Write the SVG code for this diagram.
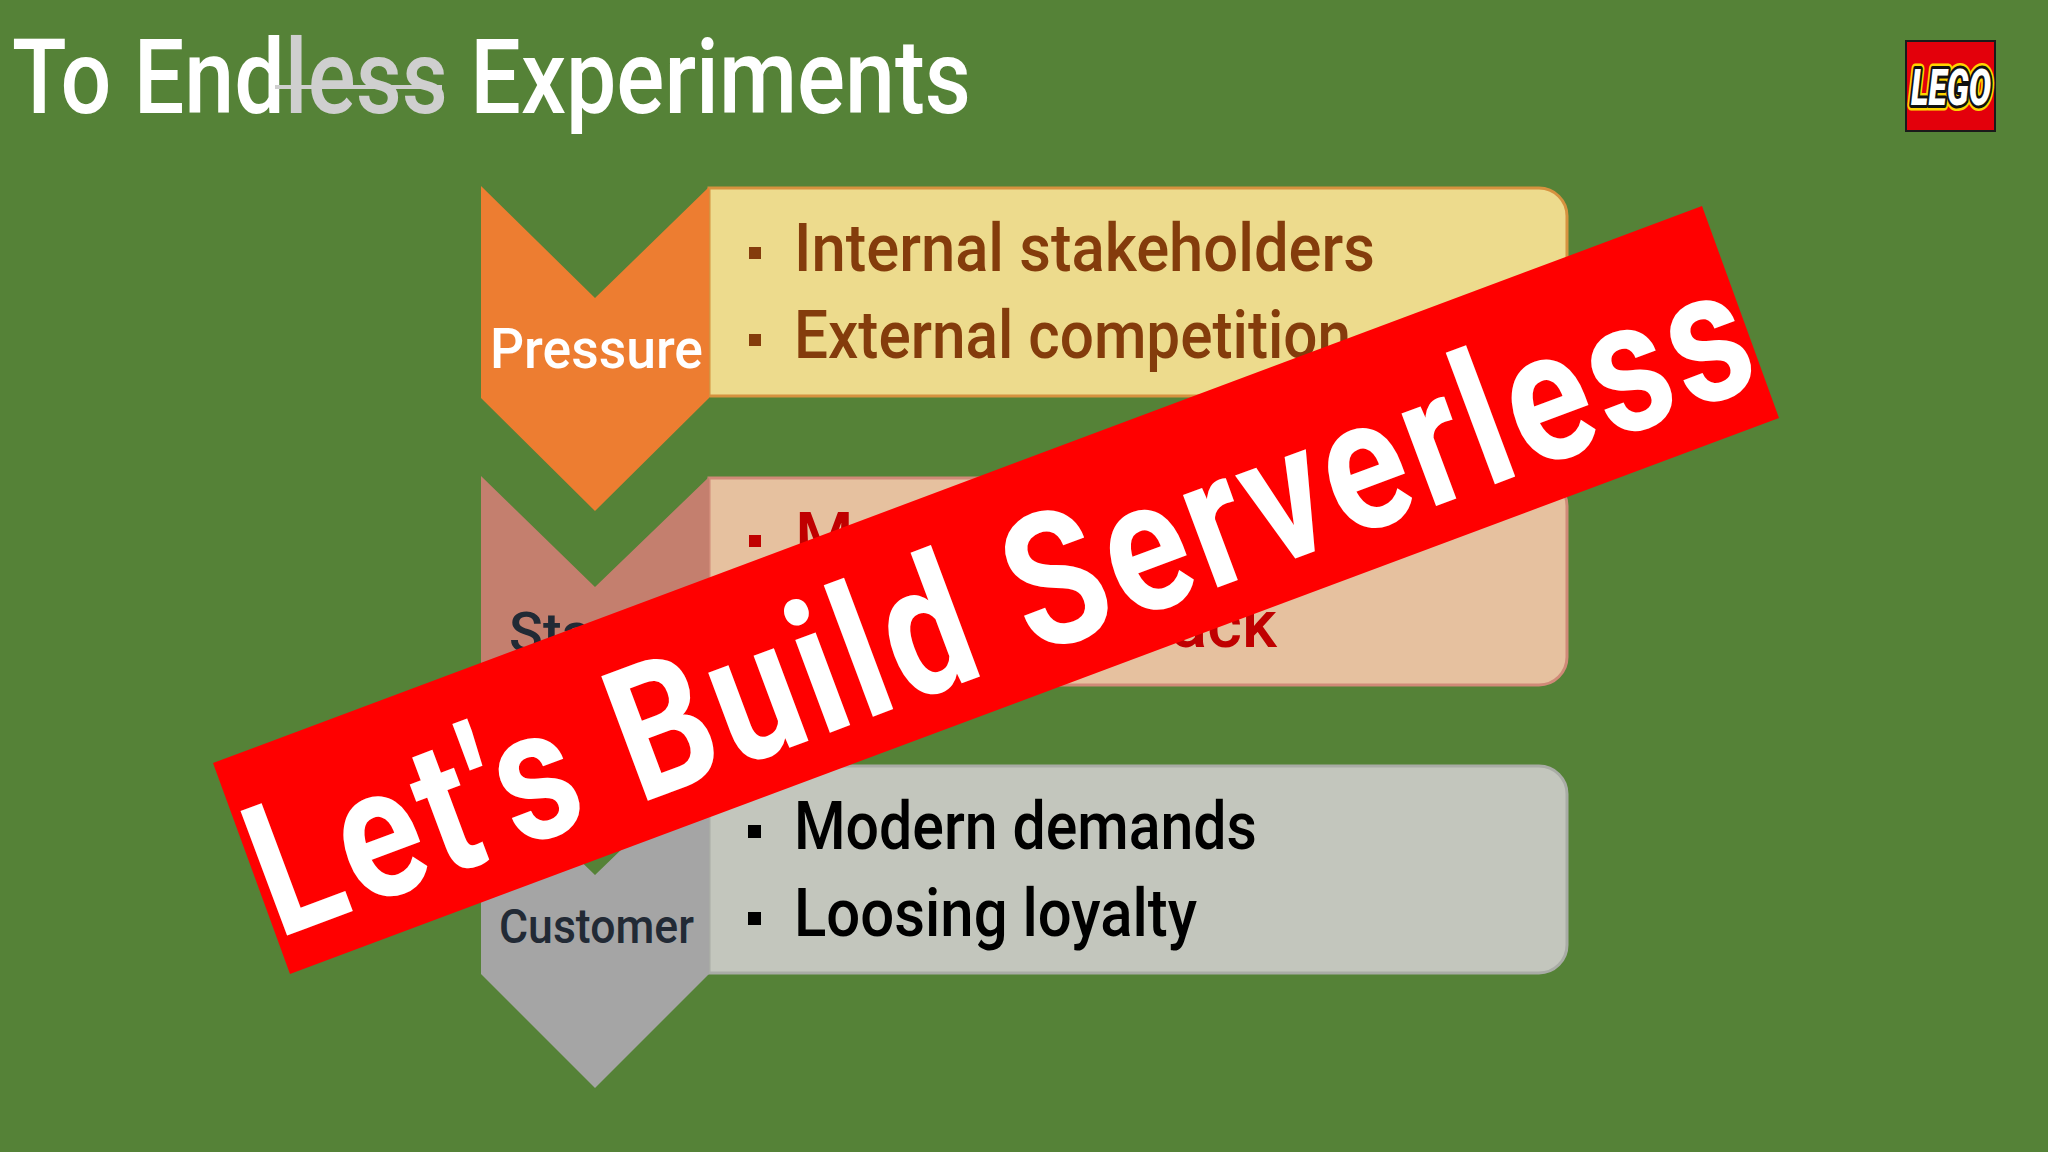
<svg xmlns="http://www.w3.org/2000/svg" width="2048" height="1152" viewBox="0 0 2048 1152">
<style>
text{font-family:Roboto,"Liberation Sans",sans-serif;font-weight:500}
.t{font-size:104px;fill:#fff}
.i{font-size:67px}
.l{font-size:56px}
.bx{stroke-width:3}
</style>
<rect width="2048" height="1152" fill="#558237"/>
<g id="title">
<text class="t" x="12" y="113" textLength="959" lengthAdjust="spacingAndGlyphs">To End<tspan fill="#cfcfcf" style="fill:#cfcfcf">less</tspan> Experiments</text>
<rect x="275" y="85" width="167" height="4" fill="#cfcfcf"/>
</g>
<g id="logo">
<rect x="1906" y="41" width="89" height="90" fill="#e3000b" stroke="#1a1a1a" stroke-width="2"/>
<text x="1911" y="105" font-size="50" font-style="italic" textLength="80" lengthAdjust="spacingAndGlyphs" fill="#ffd500" stroke="#ffd500" stroke-width="11" stroke-linejoin="round" style="font-weight:900">LEGO</text>
<text x="1911" y="105" font-size="50" font-style="italic" textLength="80" lengthAdjust="spacingAndGlyphs" fill="#111" stroke="#111" stroke-width="6" stroke-linejoin="round" style="font-weight:900">LEGO</text>
<text x="1911" y="105" font-size="50" font-style="italic" textLength="80" lengthAdjust="spacingAndGlyphs" fill="#fff" style="font-weight:900">LEGO</text>
</g>
<g id="pressure">
<path class="bx" d="M709 188H1539a28 28 0 0 1 28 28V368a28 28 0 0 1 -28 28H709Z" fill="#eddb8d" stroke="#d6923f"/>
<polygon points="481,186 595,298 709,187 709,398 595,511 481,398" fill="#ed7d31"/>
<text class="l" x="490" y="368" textLength="213" lengthAdjust="spacingAndGlyphs" fill="#fff">Pressure</text>
<rect x="749" y="247" width="12" height="12" fill="#843c0c"/>
<rect x="749" y="334" width="12" height="12" fill="#843c0c"/>
<text class="i" x="794" y="271" textLength="581" lengthAdjust="spacingAndGlyphs" fill="#843c0c">Internal stakeholders</text>
<text class="i" x="794" y="358" textLength="557" lengthAdjust="spacingAndGlyphs" fill="#843c0c">External competition</text>
</g>
<g id="stakeholder">
<path class="bx" d="M709 478H1539a28 28 0 0 1 28 28V657a28 28 0 0 1 -28 28H709Z" fill="#e6c19f" stroke="#d08a78"/>
<polygon points="481,476 595,587 709,477 709,686 595,800 481,686" fill="#c47f6e"/>
<text class="l" x="509" y="652" fill="#222a35">Sta</text>
<rect x="749" y="535" width="12" height="12" fill="#c00000"/>
<text class="i" x="795" y="560" fill="#c00000">M</text>
<text class="i" x="1277" y="647" text-anchor="end" fill="#c00000">ack</text>
</g>
<g id="customer">
<path class="bx" d="M709 766H1539a28 28 0 0 1 28 28V945a28 28 0 0 1 -28 28H709Z" fill="#c3c6bd" stroke="#a9aca6"/>
<polygon points="481,765 595,875 709,765 709,974 595,1088 481,974" fill="#a5a5a5"/>
<text x="499" y="943" font-size="48" textLength="195" lengthAdjust="spacingAndGlyphs" fill="#222a35">Customer</text>
<rect x="748" y="825" width="13" height="13" fill="#000"/>
<rect x="748" y="912" width="13" height="13" fill="#000"/>
<text class="i" x="794" y="849" textLength="463" lengthAdjust="spacingAndGlyphs" fill="#000">Modern demands</text>
<text class="i" x="794" y="936" textLength="403" lengthAdjust="spacingAndGlyphs" fill="#000">Loosing loyalty</text>
</g>
<g id="banner">
<polygon points="1702,206 1779,418 290,974 213,763" fill="#ff0000"/>
<text transform="translate(278 939) rotate(-20.5) scale(.82 1)" x="0" y="0" font-size="187" textLength="1935" lengthAdjust="spacing" fill="#fff" style="font-weight:700">Let's Build Serverless</text>
</g>
</svg>
